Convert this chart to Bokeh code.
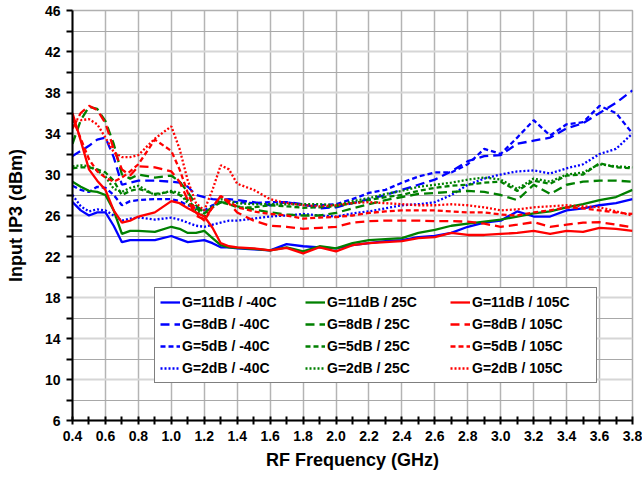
from bokeh.plotting import figure
from bokeh.models import FixedTicker, Range1d, Legend, LegendItem, CustomJSTickFormatter
from bokeh.embed import file_html
from bokeh.resources import INLINE

freq = [0.40, 0.45, 0.50, 0.55, 0.60, 0.65, 0.70, 0.75, 0.80, 0.90, 1.00, 1.05, 1.10, 1.15,
        1.20, 1.25, 1.30, 1.35, 1.40, 1.50, 1.60, 1.70, 1.80, 1.90, 2.00, 2.10, 2.20, 2.30,
        2.40, 2.50, 2.60, 2.70, 2.80, 2.90, 3.00, 3.10, 3.20, 3.30, 3.40, 3.50, 3.60, 3.70, 3.80]

g11_m40 = [27.3, 26.5, 26.0, 26.3, 26.3, 25.0, 23.4, 23.6, 23.6, 23.6, 24.0, 23.7, 23.4, 23.5,
           23.6, 23.3, 22.9, 22.9, 22.8, 22.7, 22.6, 23.2, 23.0, 22.9, 22.8, 23.1, 23.3, 23.5,
           23.6, 23.9, 24.0, 24.3, 24.9, 25.3, 25.5, 26.4, 25.9, 25.9, 26.5, 26.7, 27.0, 27.2, 27.6]
g11_25 = [29.3, 28.8, 28.4, 28.3, 28.0, 26.5, 24.2, 24.5, 24.5, 24.4, 24.9, 24.7, 24.3, 24.3,
          24.5, 23.8, 23.1, 22.9, 22.85, 22.75, 22.6, 22.9, 22.5, 23.0, 22.8, 23.3, 23.6, 23.7,
          23.8, 24.3, 24.6, 25.0, 25.2, 25.4, 25.6, 25.9, 26.2, 26.4, 26.8, 27.1, 27.5, 27.8, 28.5]
g11_105 = [36.0, 33.3, 30.5, 29.4, 28.5, 26.5, 25.3, 25.5, 25.9, 26.3, 27.4, 27.2, 26.7, 26.3,
           25.9, 24.8, 23.3, 23.0, 22.9, 22.8, 22.6, 22.85, 22.3, 22.9, 22.5, 23.1, 23.3, 23.4,
           23.5, 23.8, 23.9, 24.3, 24.1, 24.1, 24.2, 24.3, 24.5, 24.2, 24.5, 24.4, 24.8, 24.7, 24.5]

g8_m40 = [31.8, 32.3, 32.8, 33.4, 33.6, 31.7, 29.0, 29.2, 29.4, 29.4, 29.3, 29.2, 28.8, 28.0,
          27.8, 27.6, 27.5, 27.6, 27.5, 27.3, 27.0, 27.3, 27.1, 26.7, 26.8, 27.2, 27.6, 28.0,
          28.5, 29.0, 29.5, 30.3, 31.3, 31.8, 31.9, 33.0, 33.3, 33.6, 34.5, 35.0, 36.0, 37.0, 38.2]
g8_25 = [33.0, 35.3, 36.6, 36.4, 35.2, 33.0, 30.0, 29.6, 30.0, 29.7, 29.9, 29.3, 28.3, 27.0,
         26.3, 26.8, 27.3, 27.2, 26.9, 26.6, 26.3, 26.1, 26.0, 26.0, 26.25, 26.7, 27.1, 27.5,
         27.8, 28.1, 28.2, 28.3, 28.4, 28.3, 28.0, 27.5, 29.0, 28.1, 29.0, 29.3, 29.4, 29.4, 29.3]
g8_105 = [34.5, 36.0, 36.7, 36.3, 35.0, 32.5, 30.5, 29.9, 30.8, 30.7, 30.3, 29.3, 27.5, 26.0,
          25.6, 26.8, 27.9, 27.2, 26.3, 25.5, 25.0, 24.9, 24.7, 24.8, 24.9, 25.3, 25.45, 25.5,
          25.5, 25.5, 25.45, 25.45, 25.4, 25.2, 24.9, 25.1, 25.35, 24.9, 25.1, 25.3, 25.35, 25.1, 24.85]

g5_m40 = [28.9, 28.5, 28.3, 28.8, 28.7, 28.0, 27.0, 27.4, 27.5, 27.6, 27.6, 27.4, 27.0, 26.8,
          26.5, 27.0, 27.3, 27.4, 27.3, 27.2, 27.3, 27.3, 27.0, 27.0, 27.1, 27.6, 28.2, 28.5,
          29.2, 29.8, 30.2, 30.2, 31.0, 32.5, 32.0, 33.6, 35.3, 33.8, 34.9, 35.1, 36.7, 36.0, 34.0]
g5_25 = [30.6, 30.7, 30.7, 30.5, 30.2, 29.4, 28.0, 28.4, 28.6, 28.1, 28.3, 28.0, 27.5, 26.7,
         26.2, 26.8, 27.3, 27.1, 26.8, 26.8, 27.0, 26.9, 26.75, 26.8, 26.9, 27.2, 27.5, 27.8,
         28.0, 28.4, 28.7, 28.9, 29.0, 29.2, 29.3, 28.4, 29.4, 29.1, 29.9, 30.0, 31.1, 30.7, 30.6]
g5_105 = [35.5, 33.5, 31.5, 30.3, 29.7, 29.3, 29.7, 30.3, 31.0, 33.4, 32.3, 30.5, 28.2, 26.3,
          25.5, 26.8, 27.9, 27.4, 26.8, 26.4, 26.15, 26.0, 25.7, 25.8, 25.85, 26.0, 26.25, 26.4,
          26.5, 26.5, 26.5, 26.4, 26.3, 26.3, 26.1, 26.0, 26.3, 26.5, 26.8, 26.7, 26.5, 26.3, 26.15]

g2_m40 = [28.0, 26.9, 26.4, 26.6, 26.5, 26.0, 25.5, 25.7, 25.8, 25.6, 25.8, 25.6, 25.3, 25.0,
          24.9, 25.1, 25.3, 25.5, 25.5, 25.7, 25.9, 26.0, 26.15, 26.0, 25.9, 26.2, 26.4, 26.7,
          27.0, 27.1, 27.3, 28.0, 29.0, 29.6, 30.0, 30.3, 30.4, 30.1, 30.6, 31.0, 32.0, 32.5, 34.0]
g2_25 = [30.8, 30.9, 30.8, 30.4, 29.8, 28.6, 28.3, 28.7, 28.9, 28.0, 28.4, 28.2, 27.2, 26.5,
         25.9, 26.8, 27.6, 27.4, 27.2, 27.1, 27.1, 27.1, 27.1, 27.1, 27.0, 27.4, 27.7, 28.1,
         28.4, 28.8, 29.0, 29.2, 29.5, 29.7, 29.5, 28.6, 29.6, 29.3, 30.0, 30.2, 31.0, 30.8, 30.7]
g2_105 = [35.5, 35.3, 35.4, 34.9, 33.6, 32.2, 31.7, 31.7, 31.9, 33.5, 34.7, 32.5, 29.4, 27.2,
          26.5, 28.5, 30.9, 30.5, 29.1, 28.5, 27.6, 27.2, 27.0, 26.9, 27.0, 27.2, 27.3, 27.2,
          27.1, 27.0, 27.0, 27.1, 27.0, 26.8, 26.5, 26.6, 26.8, 26.9, 27.0, 26.9, 26.8, 26.4, 26.0]

series_names = ["G=11dB / -40C", "G=8dB / -40C", "G=5dB / -40C", "G=2dB / -40C",
                "G=11dB / 25C", "G=8dB / 25C", "G=5dB / 25C", "G=2dB / 25C",
                "G=11dB / 105C", "G=8dB / 105C", "G=5dB / 105C", "G=2dB / 105C"]
series_values = [g11_m40, g8_m40, g5_m40, g2_m40,
                 g11_25, g8_25, g5_25, g2_25,
                 g11_105, g8_105, g5_105, g2_105]

x_ticks = [0.4, 0.6, 0.8, 1.0, 1.2, 1.4, 1.6, 1.8, 2.0, 2.2, 2.4, 2.6, 2.8, 3.0, 3.2, 3.4, 3.6, 3.8]
x_minor = [0.5, 0.7, 0.9, 1.1, 1.3, 1.5, 1.7, 1.9, 2.1, 2.3, 2.5, 2.7, 2.9, 3.1, 3.3, 3.5, 3.7]
y_ticks = [6, 10, 14, 18, 22, 26, 30, 34, 38, 42, 46]
y_minor = [8, 12, 16, 20, 24, 28, 32, 36, 40, 44]

colors = ["#0000FF"] * 4 + ["#008000"] * 4 + ["#FF0000"] * 4
dashes = ["solid", "9 5", "5 3", "2 2"] * 3

FONT = "Liberation Sans"

p = figure(frame_width=560, frame_height=410, output_backend="svg", toolbar_location=None,
           x_range=Range1d(0.4, 3.8), y_range=Range1d(6, 46),
           min_border_left=72, min_border_right=10, min_border_top=10, min_border_bottom=55)
p.background_fill_color = "white"
p.border_fill_color = "white"
p.outline_line_color = "#b0b0b0"
p.outline_line_width = 1.5

renderers = []
for vals, c, d in zip(series_values, colors, dashes):
    r = p.line(freq, vals, line_color=c, line_width=2.3, line_dash=d)
    renderers.append(r)

p.xaxis.ticker = FixedTicker(ticks=x_ticks, minor_ticks=x_minor)
p.yaxis.ticker = FixedTicker(ticks=y_ticks, minor_ticks=y_minor)
p.xaxis.formatter = CustomJSTickFormatter(code="return tick.toFixed(1);")
p.xgrid.ticker = FixedTicker(ticks=x_ticks)
p.ygrid.ticker = FixedTicker(ticks=y_ticks, minor_ticks=y_minor)
p.xgrid.grid_line_color = "#b4b4b4"
p.xgrid.grid_line_width = 1.5
p.ygrid.grid_line_color = "#d6d6d6"
p.ygrid.grid_line_width = 2
p.ygrid.minor_grid_line_color = "#a8a8a8"
p.ygrid.minor_grid_line_width = 1

for ax in (p.xaxis[0], p.yaxis[0]):
    ax.axis_line_color = "black"
    ax.axis_line_width = 2
    ax.major_tick_line_color = "black"
    ax.minor_tick_line_color = "black"
    ax.major_tick_line_width = 2
    ax.minor_tick_line_width = 2
    ax.major_label_text_font = FONT
    ax.major_label_text_font_style = "bold"
    ax.major_label_text_font_size = "14px"
    ax.major_label_text_color = "black"
    ax.axis_label_text_font = FONT
    ax.axis_label_text_font_style = "bold"
    ax.axis_label_text_font_size = "18px"
    ax.axis_label_text_color = "black"

p.xaxis.major_tick_in = 4
p.xaxis.major_tick_out = 4
p.xaxis.minor_tick_in = 4
p.xaxis.minor_tick_out = 4
p.xaxis.major_label_standoff = 6
p.xaxis.axis_label = "RF Frequency (GHz)"
p.xaxis.axis_label_standoff = 6

p.yaxis.major_tick_in = 0
p.yaxis.major_tick_out = 6
p.yaxis.minor_tick_in = 0
p.yaxis.minor_tick_out = 6
p.yaxis.major_label_standoff = 6
p.yaxis.axis_label = "Input IP3 (dBm)"
p.yaxis.axis_label_standoff = 16

items = [LegendItem(label=n, renderers=[r]) for n, r in zip(series_names, renderers)]
legend = Legend(items=items, location=(82, 37), orientation="vertical", nrows=4,
                glyph_width=20, glyph_height=18, label_height=18, label_width=119,
                label_standoff=2, spacing=4, padding=5, margin=0,
                label_text_font=FONT, label_text_font_style="bold",
                label_text_font_size="14px", label_text_color="black",
                border_line_color="black", border_line_width=1,
                background_fill_color="white", background_fill_alpha=1.0)
p.add_layout(legend, "center")

open("out.html", "w").write(file_html(p, INLINE))
